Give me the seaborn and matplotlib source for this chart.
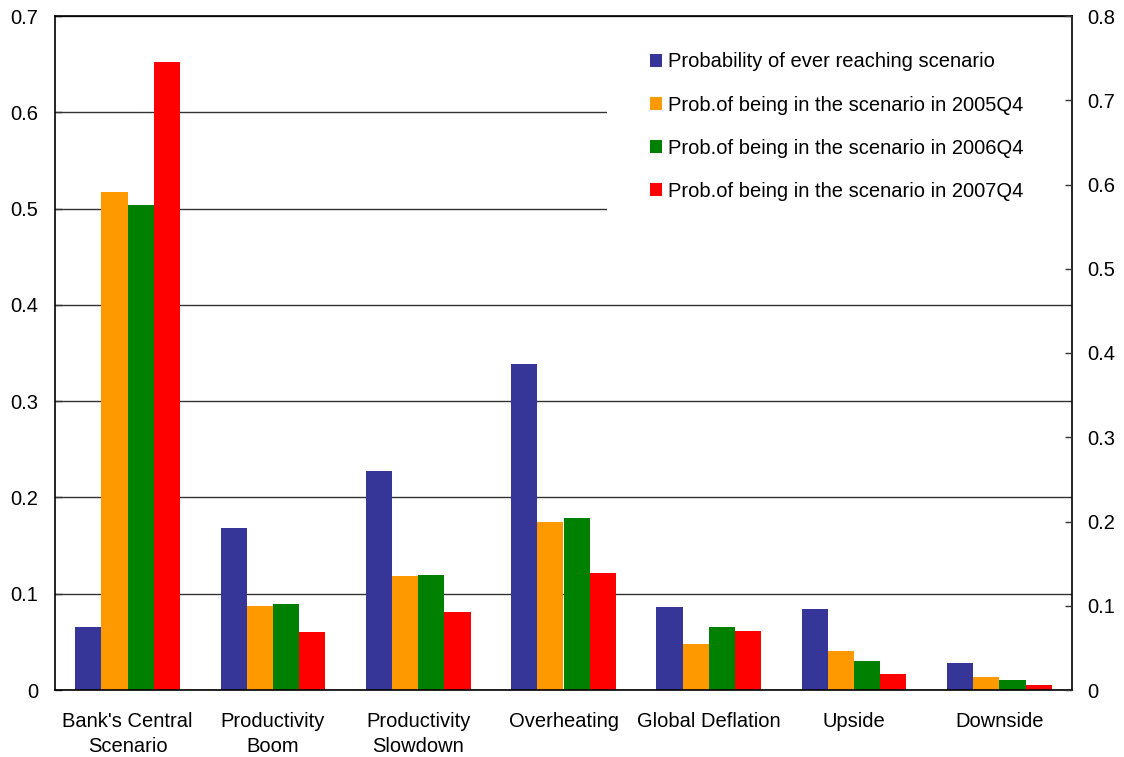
import numpy as np
import pandas as pd
import matplotlib
matplotlib.use("Agg")
import matplotlib.pyplot as plt
import seaborn as sns
from matplotlib.patches import Rectangle
from matplotlib.ticker import FixedLocator, NullFormatter

categories = ["Bank's Central\nScenario", "Productivity\nBoom", "Productivity\nSlowdown",
              "Overheating", "Global Deflation", "Upside", "Downside"]
series_names = ["Probability of ever reaching scenario",
                "Prob.of being in the scenario in 2005Q4",
                "Prob.of being in the scenario in 2006Q4",
                "Prob.of being in the scenario in 2007Q4"]
ever = [0.065, 0.168, 0.227, 0.339, 0.086, 0.084, 0.028]
q2005 = [0.517, 0.087, 0.118, 0.174, 0.048, 0.040, 0.013]
q2006 = [0.504, 0.089, 0.119, 0.179, 0.065, 0.030, 0.010]
q2007 = [0.652, 0.060, 0.081, 0.122, 0.061, 0.017, 0.005]
left_ticks = [0, 0.1, 0.2, 0.3, 0.4, 0.5, 0.6, 0.7]
left_labels = ["0", "0.1", "0.2", "0.3", "0.4", "0.5", "0.6", "0.7"]
right_ticks = [0, 0.1, 0.2, 0.3, 0.4, 0.5, 0.6, 0.7, 0.8]
right_labels = ["0", "0.1", "0.2", "0.3", "0.4", "0.5", "0.6", "0.7", "0.8"]
colors = ["#363699", "#FF9900", "#008000", "#FF0000"]

sns.set_theme(style="white")
plt.rcParams['font.family'] = ['Liberation Sans', 'DejaVu Sans']
plt.rcParams['text.color'] = 'black'
plt.rcParams['xtick.color'] = 'black'
plt.rcParams['ytick.color'] = 'black'
plt.rcParams['legend.labelcolor'] = 'black'

FS = 14.5

rows = []
for name, vals in zip(series_names, [ever, q2005, q2006, q2007]):
    for c, v in zip(categories, vals):
        rows.append({"category": c, "series": name, "value": v})
df = pd.DataFrame(rows)

fig = plt.figure(figsize=(11.24, 7.57), dpi=100)
ax = fig.add_axes([55/1124, 1 - 690/757, (1072-55)/1124, (690-16)/757])

sns.barplot(data=df, x="category", y="value", hue="series", order=categories,
            hue_order=series_names, palette=colors, saturation=1, width=0.72,
            gap=0, dodge=True, ax=ax, legend=True, linewidth=0, edgecolor="none")

ax.set_xlim(-0.5, len(categories) - 0.5)
ax.set_ylim(0, 0.7)
ax.set_yticks(left_ticks)
ax.set_yticklabels(left_labels, fontsize=FS, color="black")
ax.set_xlabel("")
ax.set_ylabel("")
ax.tick_params(axis="x", which="major", length=0, pad=16, labelsize=FS, labelcolor="black")
for lab in ax.get_xticklabels():
    lab.set_linespacing(1.38)
ax.xaxis.set_minor_locator(FixedLocator(np.arange(0.5, len(categories) - 0.5, 1.0)))
ax.xaxis.set_minor_formatter(NullFormatter())
ax.tick_params(axis="x", which="minor", direction="in", length=6, width=1, color="#333333")
ax.tick_params(axis="y", direction="in", length=5, width=1, color="#333333", pad=12, left=True)

ax.set_axisbelow(True)
ax.yaxis.grid(True, color="#333333", linewidth=1)
ax.xaxis.grid(False)
for sp in ax.spines.values():
    sp.set_visible(True)
    sp.set_color("black")
    sp.set_linewidth(1.2)

# white background behind legend area (covers gridlines)
ax.add_patch(Rectangle((0.5427, 0.69), 0.4573, 0.30, transform=ax.transAxes,
                       facecolor="white", edgecolor="none", zorder=0.8))

handles, labels = ax.get_legend_handles_labels()
ax.legend(handles, labels, loc="upper left", bbox_to_anchor=(0.585, 0.946),
          frameon=False, fontsize=FS, handlelength=0.62, handleheight=0.62,
          handletextpad=0.3, labelspacing=1.2, borderpad=0, borderaxespad=0,
          labelcolor="black")

ax2 = ax.twinx()
ax2.set_ylim(0, 0.8)
ax2.set_yticks(right_ticks)
ax2.set_yticklabels(right_labels, fontsize=FS, color="black")
ax2.tick_params(axis="y", direction="in", length=5, width=1, color="#333333", pad=11)
ax2.grid(False)
for sp in ax2.spines.values():
    sp.set_visible(False)

fig.savefig("out.png", dpi=100, facecolor="white")
